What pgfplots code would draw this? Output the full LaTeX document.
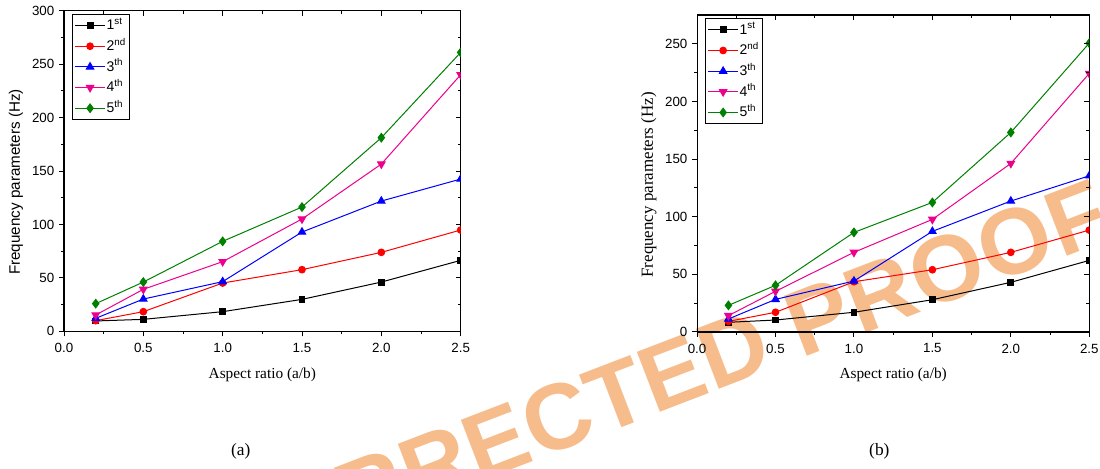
\documentclass[border=0pt]{standalone}
\usepackage{fontspec}
\setmainfont{Liberation Sans}
\newfontfamily\serifA{Liberation Serif}
\usepackage{graphicx}
\usepackage{pgfplots}
\pgfplotsset{compat=1.18}
\definecolor{wm}{RGB}{247,188,140}
\definecolor{ogreen}{RGB}{0,128,0}
\newcommand\ls{\kern0.5pt}
\pgfplotsset{
  base/.style={scale only axis, xmin=0, xmax=2.5, ymin=0,
    xtick={0,0.5,1,1.5,2,2.5}, minor x tick num=1, minor y tick num=1,
    major tick length=3.75pt, minor tick length=2.25pt,
    every tick/.style={black, line width=0.75pt},
    axis line style={line width=0.8pt}},
  mainax/.style={base, tick align=outside, xtick pos=left, ytick pos=left,
    clip marker paths=true,
    /pgf/number format/assume math mode=true,
    ticklabel style={font=\fontsize{10}{11}\selectfont},
    xticklabel style={yshift=-1.5pt, /pgf/number format/.cd, fixed, fixed zerofill, precision=1},
    xlabel style={at={(axis description cs:0.5,-0.136)}, anchor=center, font=\serifA\fontsize{11.5}{13}\selectfont},
    legend cell align=left,
    legend image code/.code={\draw[mark repeat=2, mark phase=2] plot coordinates {(0pt,0pt) (11pt,0pt) (22pt,0pt)};},
    legend style={at={(0,1)}, anchor=north west, xshift=5.8pt, yshift=-2.5pt,
      draw=black, line width=0.75pt, inner sep=2pt, row sep=3pt,
      font=\fontsize{10.5}{12}\selectfont,
      nodes={inner sep=1pt, text height=8.5pt, text depth=2pt}},
    every axis plot/.append style={line width=0.75pt}},
  overax/.style={base, tick align=inside, xtick pos=right, ytick pos=right,
    axis line style={draw=none}, xticklabels={}, yticklabels={}},
  s1/.style={black, mark=square*, mark size=2.2pt},
  s2/.style={red, mark=*, mark size=2.5pt},
  s3/.style={blue, mark=triangle*, mark size=3.2pt},
  s4/.style={magenta, mark=triangle*, mark size=3.2pt, mark options={rotate=180}},
  s5/.style={ogreen, mark=diamond*, mark size=3.2pt},
}
\begin{document}
\begin{tikzpicture}
\useasboundingbox (0,0) rectangle (825pt,351pt);
\clip (0,0) rectangle (825pt,351pt);
% watermark
\node[rotate=21, anchor=base east, inner sep=0pt, text=wm, font=\bfseries\fontsize{70}{74}\selectfont] at (836pt,172.5pt)
  {U\ls N\ls C\ls O\ls R\ls R\ls E\ls C\ls T\ls E\ls D\ls\ \ls P\ls R\ls O\ls O\ls F};

% ---------- panel (a)
\begin{axis}[mainax, at={(48pt,102.5pt)}, anchor=south west, width=297.5pt, height=240.45pt,
  ymax=300, ytick={0,50,...,300},
  xlabel={Aspect ratio (a/b)},
  ylabel={Frequency parameters (Hz)},
  ylabel style={at={(axis description cs:-0.121,0.466)}, anchor=center, font=\fontsize{11.4}{13}\selectfont}]
\addplot[s1] coordinates {(0.2,9.7) (0.5,11.2) (1.0,18.4) (1.5,29.9) (2.0,46.1) (2.5,66.4)};
\addlegendentry{1\textsuperscript{st}}
\addplot[s2] coordinates {(0.2,10.0) (0.5,18.4) (1.0,45.2) (1.5,57.7) (2.0,73.9) (2.5,94.8)};
\addlegendentry{2\textsuperscript{nd}}
\addplot[s3] coordinates {(0.2,12.2) (0.5,30.2) (1.0,46.5) (1.5,92.9) (2.0,121.9) (2.5,142.5)};
\addlegendentry{3\textsuperscript{th}}
\addplot[s4] coordinates {(0.2,15.3) (0.5,39.3) (1.0,65.2) (1.5,105.1) (2.0,156.5) (2.5,240.1)};
\addlegendentry{4\textsuperscript{th}}
\addplot[s5] coordinates {(0.2,25.9) (0.5,46.1) (1.0,84.2) (1.5,116.3) (2.0,181.2) (2.5,261.0)};
\addlegendentry{5\textsuperscript{th}}
\end{axis}
\begin{axis}[overax, at={(48pt,102.5pt)}, anchor=south west, width=297.5pt, height=240.45pt,
  ymax=300, ytick={0,50,...,300}]
\end{axis}

% ---------- panel (b)
\begin{axis}[mainax, at={(522.8pt,102pt)}, anchor=south west, width=294.15pt, height=237.75pt,
  ymax=275, ytick={0,50,...,250},
  xlabel={Aspect ratio (a/b)},
  ylabel={Frequency parameters (Hz)},
  ylabel style={at={(axis description cs:-0.1227,0.464)}, anchor=center, font=\serifA\fontsize{12.7}{14}\selectfont}]
\addplot[s1] coordinates {(0.2,8.4) (0.5,10.4) (1.0,17.1) (1.5,28.0) (2.0,43.1) (2.5,62.1)};
\addlegendentry{1\textsuperscript{st}}
\addplot[s2] coordinates {(0.2,9.2) (0.5,17.1) (1.0,43.6) (1.5,54.0) (2.0,69.1) (2.5,88.4)};
\addlegendentry{2\textsuperscript{nd}}
\addplot[s3] coordinates {(0.2,11.3) (0.5,28.3) (1.0,44.2) (1.5,87.3) (2.0,113.6) (2.5,135.5)};
\addlegendentry{3\textsuperscript{th}}
\addplot[s4] coordinates {(0.2,14.2) (0.5,35.3) (1.0,69.1) (1.5,97.7) (2.0,146.2) (2.5,224.3)};
\addlegendentry{4\textsuperscript{th}}
\addplot[s5] coordinates {(0.2,23.1) (0.5,40.5) (1.0,86.4) (1.5,112.4) (2.0,173.1) (2.5,250.6)};
\addlegendentry{5\textsuperscript{th}}
\end{axis}
\begin{axis}[overax, at={(522.8pt,102pt)}, anchor=south west, width=294.15pt, height=237.75pt,
  ymax=275, ytick={0,50,...,250}]
\end{axis}

% captions
\node[font=\serifA\fontsize{13}{15}\selectfont] at (180.5pt,12.2pt) {(a)};
\node[font=\serifA\fontsize{13}{15}\selectfont] at (659.5pt,12.2pt) {(b)};
\end{tikzpicture}
\end{document}
